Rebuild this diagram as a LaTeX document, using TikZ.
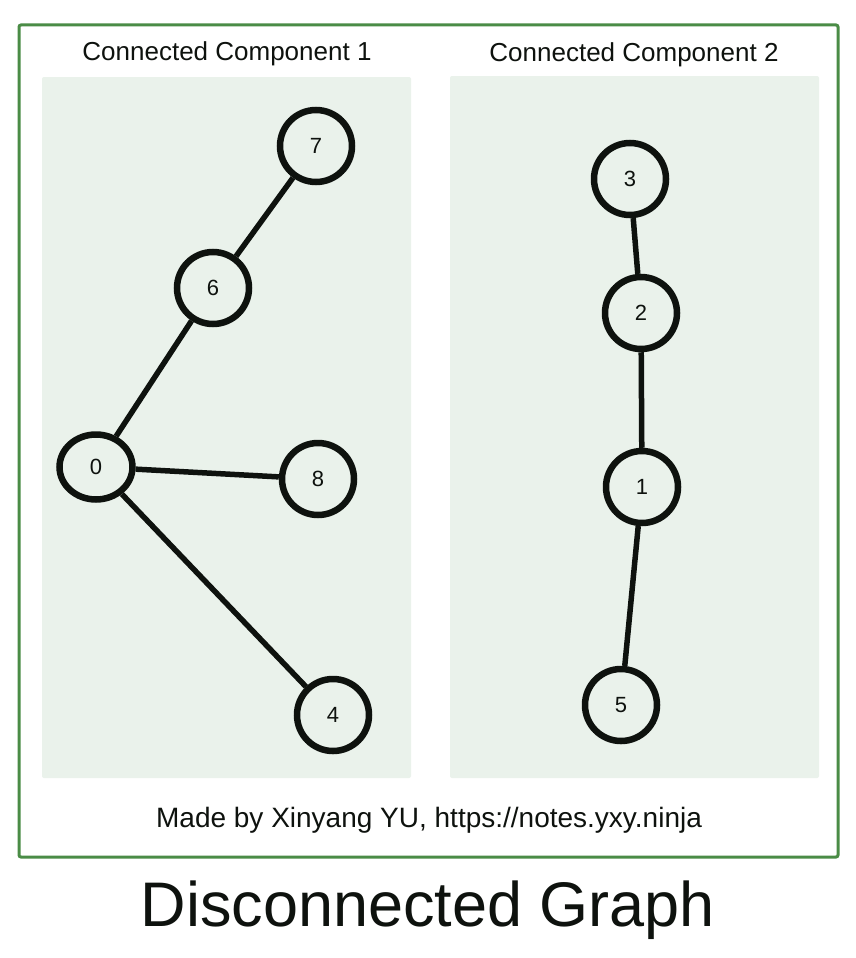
\documentclass[tikz,border=0pt]{standalone}
\usepackage{fontspec}
\setmainfont{Liberation Sans}
\usetikzlibrary{shapes.geometric}
\definecolor{framegreen}{RGB}{74,140,70}
\definecolor{panelbg}{RGB}{234,242,235}
\definecolor{ink}{RGB}{14,18,14}
\tikzset{
  panel/.style={fill=panelbg, draw=none, rounded corners=2pt},
  vertex/.style={circle, draw=ink, line width=6.5pt, minimum size=72pt, inner sep=0pt, font=\fontsize{22}{24}\selectfont, text=ink},
  evertex/.style={ellipse, draw=ink, line width=6.5pt, minimum width=73pt, minimum height=65pt, inner sep=0pt, font=\fontsize{22}{24}\selectfont, text=ink},
  edge/.style={draw=ink, line width=5.5pt},
  heading/.style={font=\fontsize{26}{28}\selectfont, text=ink},
}
\begin{document}
\begin{tikzpicture}[x=1pt,y=-1pt]
\useasboundingbox (0,0) rectangle (856,958);
\fill[white] (0,0) rectangle (856,958);
\draw[framegreen, line width=3pt, rounded corners=2pt] (19,25) rectangle (838,857);
\fill[panel] (42,77) rectangle (411,778);
\fill[panel] (450,76) rectangle (819,778);
\node[heading] (t1) at (227,54) {Connected Component 1};
\node[heading] (t2) at (634,55) {Connected Component 2};
\node[vertex] (n7) at (316,146) {7};
\node[vertex] (n6) at (213,288) {6};
\node[evertex] (n0) at (96,467) {0};
\node[vertex] (n8) at (318,479) {8};
\node[vertex] (n4) at (333,715) {4};
\node[vertex] (n3) at (630,179) {3};
\node[vertex] (n2) at (641,313) {2};
\node[vertex] (n1) at (642,487) {1};
\node[vertex] (n5) at (621,705) {5};
\draw[edge] (n6) -- (n7);
\draw[edge] (n0) -- (n6);
\draw[edge] (n0) -- (n8);
\draw[edge] (n0) -- (n4);
\draw[edge] (n3) -- (n2);
\draw[edge] (n2) -- (n1);
\draw[edge] (n1) -- (n5);
\node[font=\fontsize{28}{30}\selectfont, text=ink] (foot) at (429,820) {Made by Xinyang YU, https://notes.yxy.ninja};
\node[font=\fontsize{63}{68}\selectfont, text=ink] (title) at (428,910) {Disconnected Graph};
\end{tikzpicture}
\end{document}
